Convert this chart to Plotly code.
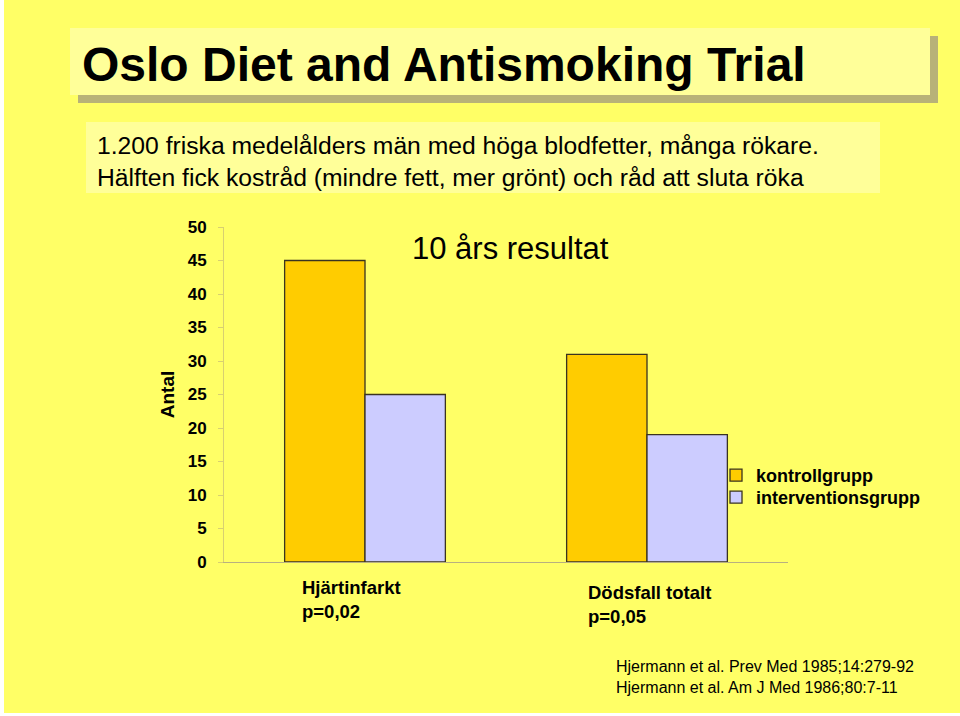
import plotly.graph_objects as go

categories = ["Hjärtinfarkt", "Dödsfall totalt"]
category_labels = ["Hjärtinfarkt<br>p=0,02", "Dödsfall totalt<br>p=0,05"]
series_names = ["kontrollgrupp", "interventionsgrupp"]
kontroll = [45, 31]
intervention = [25, 19]
y_ticks = [0, 5, 10, 15, 20, 25, 30, 35, 40, 45, 50]

W, H = 960, 716
L, R, T, B = 224, 788, 227, 562

def px(x):
    return (x - L) / (R - L)

def py(y):
    return (B - y) / (B - T)

FONT = "Liberation Sans, Arial, sans-serif"

fig = go.Figure()
fig.add_trace(go.Bar(x=categories, y=kontroll, name=series_names[0], legend="legend",
                     marker=dict(color="#FFCC00", line=dict(color="#3a3320", width=1.3))))
fig.add_trace(go.Bar(x=categories, y=intervention, name=series_names[1], legend="legend2",
                     marker=dict(color="#CCCCFF", line=dict(color="#3a3320", width=1.3))))

shapes = [
    # title shadow and box
    dict(type="rect", xref="paper", yref="paper", x0=px(78), x1=px(938), y0=py(36), y1=py(103),
         fillcolor="#B8B278", line=dict(width=0), layer="below"),
    dict(type="rect", xref="paper", yref="paper", x0=px(70), x1=px(930), y0=py(28), y1=py(95),
         fillcolor="#FFFF99", line=dict(width=0), layer="below"),
    # subtitle box
    dict(type="rect", xref="paper", yref="paper", x0=px(86), x1=px(880), y0=py(122), y1=py(193),
         fillcolor="#FFFF99", line=dict(width=0), layer="below"),
    # white edges
    dict(type="rect", xref="paper", yref="paper", x0=px(0), x1=px(4), y0=py(0), y1=py(716),
         fillcolor="white", line=dict(width=0), layer="below"),
    dict(type="rect", xref="paper", yref="paper", x0=px(0), x1=px(960), y0=py(713), y1=py(716),
         fillcolor="white", line=dict(width=0), layer="below"),
]

annotations = [
    dict(text="<b>Oslo Diet and Antismoking Trial</b>", x=px(80), y=py(64), xref="paper", yref="paper",
         xanchor="left", yanchor="middle", showarrow=False,
         font=dict(family=FONT, size=48, color="black")),
    dict(text="1.200 friska medelålders män med höga blodfetter, många rökare.<br>Hälften fick kostråd (mindre fett, mer grönt) och råd att sluta röka",
         x=px(95), y=py(161), xref="paper", yref="paper", xanchor="left", yanchor="middle",
         align="left", showarrow=False, font=dict(family=FONT, size=24.7, color="black")),
    dict(text="10 års resultat", x=px(510), y=py(248), xref="paper", yref="paper",
         xanchor="center", yanchor="middle", showarrow=False,
         font=dict(family=FONT, size=31, color="black")),
    dict(text="<b>" + category_labels[0] + "</b>", x=px(300), y=py(575), xref="paper", yref="paper",
         xanchor="left", yanchor="top", align="left", showarrow=False,
         font=dict(family=FONT, size=18.5, color="black")),
    dict(text="<b>" + category_labels[1] + "</b>", x=px(586), y=py(580), xref="paper", yref="paper",
         xanchor="left", yanchor="top", align="left", showarrow=False,
         font=dict(family=FONT, size=18.5, color="black")),
    dict(text="Hjermann et al. Prev Med 1985;14:279-92<br>Hjermann et al. Am J Med 1986;80:7-11",
         x=px(614), y=py(677), xref="paper", yref="paper", xanchor="left", yanchor="middle",
         align="left", showarrow=False, font=dict(family=FONT, size=16, color="black")),
]

legend_style = dict(xanchor="left", yanchor="top", bgcolor="rgba(0,0,0,0)",
                    font=dict(family=FONT, size=18, color="black", weight="bold"),
                    itemwidth=30, tracegroupgap=0)

fig.update_layout(
    width=W, height=H,
    margin=dict(l=L, r=W - R, t=T, b=H - B, pad=0),
    paper_bgcolor="#FFFF66", plot_bgcolor="rgba(0,0,0,0)",
    barmode="group", bargap=0.43, bargroupgap=0,
    font=dict(family=FONT, color="black"),
    showlegend=True,
    legend=dict(x=px(716), y=py(457), **legend_style),
    legend2=dict(x=px(716), y=py(479), **legend_style),
    shapes=shapes, annotations=annotations,
)
fig.update_xaxes(showticklabels=False, ticks="", showline=True, linecolor="#B8B080",
                 linewidth=1, showgrid=False, zeroline=False)
fig.update_yaxes(range=[0, 50], tickvals=y_ticks, ticktext=[f"<b>{v}</b>" for v in y_ticks],
                 tickfont=dict(family=FONT, size=17, color="black"),
                 showline=True, linecolor="#D8D070", linewidth=1,
                 ticks="outside", ticklen=5, tickcolor="#D8D070", ticklabelstandoff=8,
                 showgrid=False, zeroline=False,
                 title=dict(text="<b>Antal</b>", font=dict(family=FONT, size=19, color="black"),
                            standoff=8))

fig.write_html("out.html", config={"displayModeBar": False},
               post_script="document.body.style.margin='0';")
